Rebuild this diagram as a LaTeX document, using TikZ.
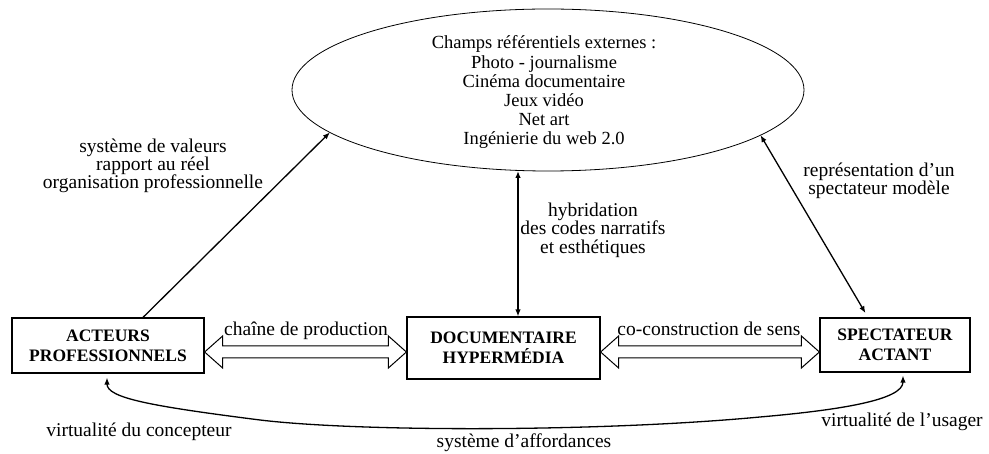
\documentclass[tikz,border=0pt]{standalone}
\usepackage{fontspec}
\setmainfont{Liberation Serif}
\usetikzlibrary{shapes.geometric,arrows.meta,calc}
\begin{document}
\begin{tikzpicture}[x=1pt,y=-1pt,
  box/.style={draw,line width=1.2pt,font=\fontsize{17.5}{20}\selectfont\bfseries,align=center,inner sep=0pt},
  lbl/.style={font=\fontsize{19.5}{18}\selectfont,align=center,inner sep=0pt},
  tip/.style={Latex[length=7pt,width=5.5pt]},
  con/.style={line width=1.3pt,-{Latex[length=7pt,width=5.5pt]}},
  dcon/.style={line width=1.3pt,{Latex[length=7pt,width=5.5pt]}-{Latex[length=7pt,width=5.5pt]}},
  blk/.style={draw,line width=1pt,fill=white,line join=miter}]
\useasboundingbox (0,0) rectangle (989,454);

% ellipse
\node[draw,ellipse,line width=0.8pt,minimum width=512,minimum height=162,inner sep=0pt,outer sep=0pt] (E) at (548,90) {};
\node[font=\fontsize{18.5}{19}\selectfont,align=center,inner sep=0pt] (T) at (544,92)
  {Champs référentiels externes :\\[1pt] Photo - journalisme\\ Cinéma documentaire\\ Jeux vidéo\\ Net art\\ Ingénierie du web 2.0};

% boxes
\node[box,minimum width=192,minimum height=55] (A) at (108,345.5) {ACTEURS\\PROFESSIONNELS};
\node[box,minimum width=193,minimum height=62] (D) at (503.5,348) {DOCUMENTAIRE\\HYPERMÉDIA};
\node[box,minimum width=150,minimum height=54] (S) at (895,345) {SPECTATEUR\\ACTANT};

\coordinate (yb) at (0,352);
\coordinate (xv) at (518,0);
\coordinate (xl) at (143,0);
\coordinate (xr) at (868,0);
\coordinate (xa) at (107,0);
\coordinate (xs) at (903,0);

% block double arrows
\draw[blk] let \p1=(A.east|-yb), \p2=(D.west|-yb), \n1={\x2-\x1-36pt} in
  (\p1) -- ++(18,-16) -- ++(0,10) -- ++(\n1,0) -- ++(0,-10) -- ++(18,16)
  -- ++(-18,16) -- ++(0,-10) -- ++(-\n1,0) -- ++(0,10) -- cycle;
\draw[blk] let \p1=(D.east|-yb), \p2=(S.west|-yb), \n1={\x2-\x1-36pt} in
  (\p1) -- ++(18,-16) -- ++(0,10) -- ++(\n1,0) -- ++(0,-10) -- ++(18,16)
  -- ++(-18,16) -- ++(0,-10) -- ++(-\n1,0) -- ++(0,10) -- cycle;

\node[lbl] (l1) at (306,331) {chaîne de production};
\node[lbl] (l2) at (709,329) {co-construction de sens};

% connectors to ellipse
\draw[con] (A.north-|xl) -- (E.191);
\draw[dcon] (E.south-|xv) -- (D.north-|xv);
\draw[dcon,shorten >=5pt] (E.348) -- (S.north-|xr);

\node[lbl] (l3) at (153,166) {système de valeurs\\ rapport au réel\\ organisation professionnelle};
\node[lbl,font=\fontsize{19.5}{18.5}\selectfont] (l4) at (593,230) {hybridation\\ des codes narratifs\\ et esthétiques};
\node[lbl,font=\fontsize{19.5}{18.5}\selectfont] (l5) at (879,181) {représentation d’un\\ spectateur modèle};

% bottom curve
\draw[dcon,shorten <=4pt,shorten >=3pt] (A.south-|xa) .. controls (107,398) and (150,406) .. (260,420)
  .. controls (360,432) and (600,432) .. (760,417)
  .. controls (840,410) and (903,400) .. (S.south-|xs);

\node[lbl] (l6) at (139,432) {virtualité du concepteur};
\node[lbl] (l7) at (524,443) {système d’affordances};
\node[lbl] (l8) at (902,422) {virtualité de l’usager};
\end{tikzpicture}
\end{document}
